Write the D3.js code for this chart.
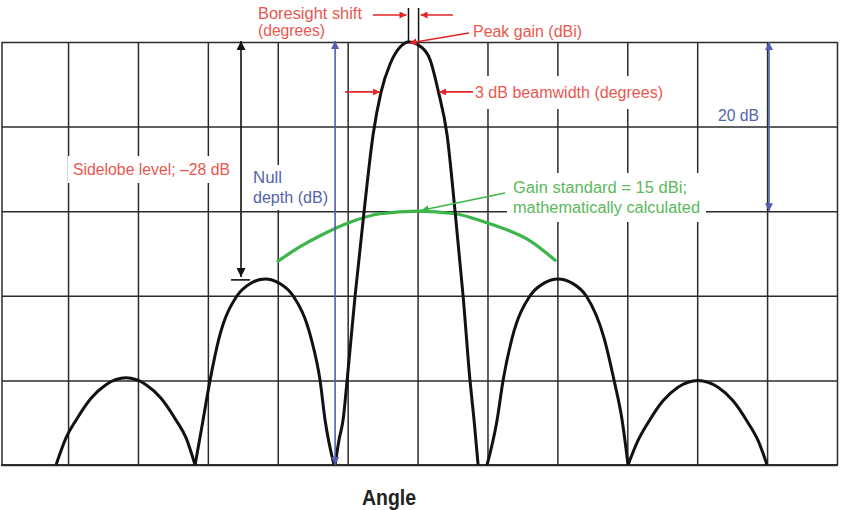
<!DOCTYPE html>
<html>
<head>
<meta charset="utf-8">
<script src="https://cdn.jsdelivr.net/npm/d3@7"></script>
<style>
  html, body { margin: 0; padding: 0; background: #fff; }
  svg { display: block; }
  text { font-family: "Liberation Sans", Arial, sans-serif; }
</style>
</head>
<body>
<svg id="chart" width="841" height="510"></svg>
<script>
// Antenna radiation pattern: angle in grid divisions, gain in dB relative to the peak.
const angleTicks = [-5, -4, -3, -2, -1, 0, 1, 2, 3, 4, 5, 6];
const gainTicks = [0, -10, -20, -30, -40, -50];

const mainLobe = [
  [-1.180, -50], [-1.123, -47.0], [-1.066, -44.7], [-1.009, -40.1], [-0.894, -30.0],
  [-0.765, -20.0], [-0.637, -11.0], [-0.522, -5.9], [-0.393, -2.6], [-0.250, -0.6],
  [-0.130, 0], [0.036, -0.5], [0.179, -2.1], [0.293, -5.7], [0.422, -11.0],
  [0.536, -20.0], [0.651, -30.0], [0.751, -40.1], [0.808, -44.7], [0.866, -50]
];
const leftSidelobe1 = [
  [-3.183, -50], [-3.069, -44.7], [-2.969, -40.0], [-2.840, -35.0], [-2.582, -30.0],
  [-2.382, -28.5], [-2.182, -28], [-1.981, -28.5], [-1.781, -30.0], [-1.524, -35.0],
  [-1.395, -40.0], [-1.323, -44.7], [-1.195, -50]
];
const rightSidelobe1 = [
  [0.994, -50], [1.137, -44.7], [1.223, -40.0], [1.352, -35.0], [1.609, -30.0],
  [1.810, -28.5], [2.010, -28], [2.210, -28.5], [2.411, -30.0], [2.668, -35.0],
  [2.811, -40.0], [2.926, -44.7], [3.011, -50]
];
const leftSidelobe2 = [
  [-5.172, -50], [-5.029, -46.8], [-4.886, -44.7], [-4.671, -42.1], [-4.457, -40.5],
  [-4.171, -39.7], [-3.885, -40.5], [-3.670, -42.1], [-3.455, -44.7], [-3.312, -46.8],
  [-3.183, -50]
];
const rightSidelobe2 = [
  [3.011, -50], [3.154, -47.1], [3.297, -45.0], [3.511, -42.4], [3.726, -40.8],
  [4.012, -40], [4.298, -40.8], [4.513, -42.4], [4.727, -45.0], [4.870, -47.1],
  [5.000, -50]
];
const gainStandard = [
  [-1.996, -25.9], [-1.681, -24.2], [-1.395, -22.9], [-0.966, -21.3], [-0.536, -20.3],
  [0.0, -20.0], [0.536, -20.3], [0.966, -21.3], [1.180, -21.9], [1.609, -23.5],
  [1.967, -25.8]
];

const peakAngle = -0.13;      // boresight of the main beam
const sidelobeLevel = -28;    // first sidelobe, dB below peak
const beamwidthLevel = -5.9;  // level at which the beamwidth arrows sit
const beamLeft = -0.522, beamRight = 0.293;
const nullAngle = -1.180;     // first null left of the main beam
const scaleSpan = -20;        // 20 dB reference arrow

const svg = d3.select("#chart");
const x = d3.scaleLinear().domain([-5.945, 6]).range([2, 837]);
const y = d3.scaleLinear().domain([-50, 0]).range([465, 42]);

const RED = "#e3262b", RED_TXT = "#e9574f";
const BLUE = "#4f5fae", BLUE_TXT = "#5463ab";
const GREEN = "#3cb54a", GREEN_TXT = "#5bb85b";
const GRID = "#2b2b2b";

// arrowhead markers (auto-start-reverse so a start marker points outward)
const defs = svg.append("defs");
function marker(id, color, len, wid) {
  defs.append("marker")
    .attr("id", id).attr("viewBox", "0 0 10 10")
    .attr("refX", 10).attr("refY", 5)
    .attr("markerUnits", "userSpaceOnUse")
    .attr("markerWidth", len).attr("markerHeight", wid)
    .attr("orient", "auto-start-reverse")
    .append("path").attr("d", "M0,0 L10,5 L0,10 Z").attr("fill", color);
}
marker("ahRed", RED, 9, 7);
marker("ahBlue", BLUE, 9, 8);
marker("ahBlack", "#111", 10, 9);
marker("ahGreen", GREEN, 9, 7);

defs.append("clipPath").attr("id", "plotClip")
  .append("rect").attr("x", 0).attr("y", 0).attr("width", 841).attr("height", y(-50));

// grid
const gridX = svg.append("g").attr("transform", `translate(0,${y(-50)})`)
  .call(d3.axisBottom(x).tickValues(angleTicks).tickSize(-(y(-50) - y(0))).tickFormat(""));
const gridY = svg.append("g").attr("transform", `translate(${x(-5.945)},0)`)
  .call(d3.axisLeft(y).tickValues(gainTicks).tickSize(-(x(6) - x(-5.945))).tickFormat(""));
[gridX, gridY].forEach(g => {
  g.select(".domain").remove();
  g.selectAll("line").attr("stroke", GRID).attr("stroke-width", 1.5);
});
// frame
svg.append("line").attr("x1", x(-5.945)).attr("x2", x(-5.945)).attr("y1", y(0)).attr("y2", y(-50))
  .attr("stroke", GRID).attr("stroke-width", 1.5);
svg.append("line").attr("x1", x(-5.945) - 1).attr("x2", x(6) + 1).attr("y1", y(-50)).attr("y2", y(-50))
  .attr("stroke", GRID).attr("stroke-width", 2.2);

const line = d3.line().x(d => x(d[0])).y(d => y(d[1])).curve(d3.curveMonotoneX);

// calculated gain standard
svg.append("path").datum(gainStandard).attr("d", line)
  .attr("fill", "none").attr("stroke", GREEN).attr("stroke-width", 3.2).attr("stroke-linecap", "round");

// measured pattern lobes
const lobes = svg.append("g").attr("clip-path", "url(#plotClip)");
[leftSidelobe2, leftSidelobe1, mainLobe, rightSidelobe1, rightSidelobe2].forEach(lobe => {
  lobes.append("path").datum(lobe).attr("d", line)
    .attr("fill", "none").attr("stroke", "#111").attr("stroke-width", 3)
    .attr("stroke-linejoin", "round");
});

// labels with optional white backing; each line is [text, width]
function label(lines, tx, ty, lh, color, padX, padY) {
  const g = svg.append("g");
  const t = g.append("text").attr("x", tx).attr("y", ty).attr("fill", color).attr("font-size", 16);
  lines.forEach(([s, w], i) => t.append("tspan").attr("x", tx).attr("dy", i ? lh : 0)
    .attr("textLength", w).attr("lengthAdjust", "spacingAndGlyphs").text(s));
  if (padX !== undefined) {
    const b = t.node().getBBox();
    g.insert("rect", "text").attr("x", b.x - padX).attr("y", b.y - padY)
      .attr("width", b.width + 2 * padX).attr("height", b.height + 2 * padY).attr("fill", "#fff");
  }
  return g;
}

label([["Boresight shift", 104], ["(degrees)", 67]], 258, 19, 17, RED_TXT);
label([["Peak gain (dBi)", 109]], 473, 37, 0, RED_TXT);
label([["3 dB beamwidth (degrees)", 188]], 475, 98, 0, RED_TXT, 7, 8);
label([["20 dB", 41]], 718, 121, 0, BLUE_TXT);
label([["Sidelobe level; \u201328 dB", 157]], 73, 175, 0, RED_TXT, 5, 5);
label([["Null", 29], ["depth (dB)", 75]], 253, 183, 20, BLUE_TXT, 4, 4);
label([["Gain standard = 15 dBi;", 174], ["mathematically calculated", 187]], 513, 193, 20, GREEN_TXT, 6, 6);

svg.append("text").attr("x", 362).attr("y", 505)
  .attr("font-size", 22).attr("font-weight", "bold").attr("fill", "#222")
  .attr("textLength", 54).attr("lengthAdjust", "spacingAndGlyphs").text("Angle");

// annotation arrows
function arrow(x1, y1, x2, y2, color, mk, w, both) {
  const l = svg.append("line").attr("x1", x1).attr("y1", y1).attr("x2", x2).attr("y2", y2)
    .attr("stroke", color).attr("stroke-width", w).attr("marker-end", `url(#${mk})`);
  if (both) l.attr("marker-start", `url(#${mk})`);
  return l;
}

// boresight shift: beam axis vs reference axis
svg.append("line").attr("x1", x(peakAngle)).attr("x2", x(peakAngle)).attr("y1", 8).attr("y2", y(0))
  .attr("stroke", "#111").attr("stroke-width", 1.5);
svg.append("line").attr("x1", x(0) + 1).attr("x2", x(0) + 1).attr("y1", 8).attr("y2", y(0))
  .attr("stroke", "#111").attr("stroke-width", 1.5);
arrow(373, 15, x(peakAngle) - 2, 15, RED, "ahRed", 1.6);
arrow(453, 15, x(0) + 3, 15, RED, "ahRed", 1.6);

// peak gain pointer
arrow(469, 33, x(peakAngle) + 1, y(0) + 1, RED, "ahRed", 1.6);

// 3 dB beamwidth
arrow(345, y(beamwidthLevel), x(beamLeft) - 1, y(beamwidthLevel), RED, "ahRed", 1.6);
arrow(473, y(beamwidthLevel), x(beamRight) + 1, y(beamwidthLevel), RED, "ahRed", 1.6);

// sidelobe level
arrow(241, y(0) - 1, 241, y(sidelobeLevel) - 2, "#111", "ahBlack", 1.6, true);
svg.append("line").attr("x1", 231).attr("x2", 250).attr("y1", y(sidelobeLevel) + 1).attr("y2", y(sidelobeLevel) + 1)
  .attr("stroke", "#111").attr("stroke-width", 1.6);

// null depth
arrow(x(nullAngle), y(0) - 1, x(nullAngle), y(-50), BLUE, "ahBlue", 1.6, true);

// 20 dB scale
arrow(769, y(0), 769, y(scaleSpan), BLUE, "ahBlue", 1.6, true);

// gain standard pointer
arrow(505, 193, x(0) + 4, y(-20) - 1, GREEN, "ahGreen", 1.4);
</script>
</body>
</html>
